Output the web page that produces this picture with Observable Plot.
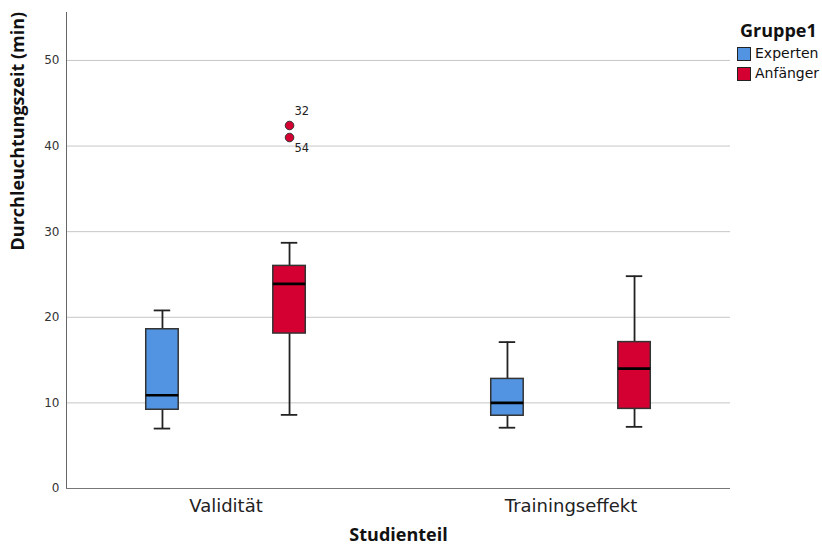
<!DOCTYPE html>
<html>
<head>
<meta charset="utf-8">
<script src="https://cdn.jsdelivr.net/npm/d3@7"></script>
<script src="https://cdn.jsdelivr.net/npm/@observablehq/plot@0.6"></script>
<style>
  body { margin: 0; background: #fff; }
  #wrap { position: relative; width: 822px; height: 552px; overflow: hidden; }
  #wrap svg { position: absolute; left: 0; top: 0; }
  #legend { position: absolute; left: 737px; top: 0; width: 90px; height: 100px; }
  #legend .title { position: absolute; left: 3px; top: 19px; font: bold 18px "Open Sans", sans-serif; color: #111; line-height: 22px; white-space: nowrap; }
  #legend .row { position: absolute; left: 0; height: 16px; line-height: 16px; white-space: nowrap; font: 14px "DejaVu Sans", sans-serif; color: #111; }
  #legend .sw { position: absolute; left: 0; top: 1px; width: 12px; height: 12px; border: 1px solid #222; }
  #legend .lab { position: absolute; left: 18px; top: -1px; }
</style>
</head>
<body>
<div id="wrap"><div id="legend"></div></div>
<script>
// ---- data ----
const studienteile = ["Validität", "Trainingseffekt"];
const gruppen = ["Experten", "Anfänger"];
const farben = ["#5294E2", "#D50032"];

const boxTeil     = ["Validität", "Validität", "Trainingseffekt", "Trainingseffekt"];
const boxGruppe   = ["Experten", "Anfänger", "Experten", "Anfänger"];
const whiskerLow  = [7.0, 8.6, 7.1, 7.2];
const q1          = [9.2, 18.1, 8.5, 9.3];
const median      = [10.9, 23.9, 10.0, 14.0];
const q3          = [18.6, 26.0, 12.8, 17.1];
const whiskerHigh = [20.8, 28.7, 17.1, 24.8];

const outlierTeil   = ["Validität", "Validität"];
const outlierGruppe = ["Anfänger", "Anfänger"];
const outlierWert   = [42.4, 41.0];
const outlierFall   = ["32", "54"];

const yTicks = [0, 10, 20, 30, 40, 50];
const yMax = 55.6;

// ---- build tables ----
const boxes = boxTeil.map((t, i) => ({
  teil: t, gruppe: boxGruppe[i], lo: whiskerLow[i], q1: q1[i],
  median: median[i], q3: q3[i], hi: whiskerHigh[i]
}));
const outliers = outlierTeil.map((t, i) => ({
  teil: t, gruppe: outlierGruppe[i], wert: outlierWert[i], fall: outlierFall[i]
}));

// ---- layout ----
const W = 822, H = 552;
const mL = 66, mR = 92, mT = 12, mB = 64;
const xOpts = { domain: studienteile, paddingInner: 0.5, paddingOuter: 0.212 };
const studyScale = Plot.scale({ x: { type: "band", ...xOpts, range: [mL, W - mR] } });
const bw = studyScale.bandwidth;
const groupScale = Plot.scale({ x: { type: "band", domain: gruppen, range: [-bw / 2, bw / 2], paddingInner: 0.748, paddingOuter: 0.053 } });
const gbw = groupScale.bandwidth;

const font = "DejaVu Sans";
const boldFont = "Open Sans";

const marks = [
  Plot.ruleY(yTicks.filter(v => v > 0), { stroke: "#c6c6c6", strokeWidth: 1 }),
  Plot.axisY({ ticks: yTicks, tickSize: 0, tickPadding: 7, fontSize: 12, fill: "#333", label: null }),
  Plot.axisX({ tickSize: 0, tickPadding: 11, fontSize: 18, fill: "#222", label: null }),
  Plot.frame({ anchor: "left", stroke: "#666" }),
  Plot.ruleY([0], { stroke: "#777", strokeWidth: 1.2 })
];

gruppen.forEach((g, gi) => {
  const data = boxes.filter(d => d.gruppe === g);
  const off = groupScale.apply(g) + gbw / 2;
  const inset = (bw - gbw) / 2;
  const capInset = inset + gbw / 4;
  marks.push(
    Plot.ruleX(data, { x: "teil", y1: "lo", y2: "q1", dx: off, stroke: "#222", strokeWidth: 1.8 }),
    Plot.ruleX(data, { x: "teil", y1: "q3", y2: "hi", dx: off, stroke: "#222", strokeWidth: 1.8 }),
    Plot.tickY(data, { x: "teil", y: "lo", dx: off, insetLeft: capInset, insetRight: capInset, stroke: "#222", strokeWidth: 1.8 }),
    Plot.tickY(data, { x: "teil", y: "hi", dx: off, insetLeft: capInset, insetRight: capInset, stroke: "#222", strokeWidth: 1.8 }),
    Plot.barY(data, { x: "teil", y1: "q1", y2: "q3", dx: off, insetLeft: inset, insetRight: inset, fill: farben[gi], stroke: "#333", strokeWidth: 1.5 }),
    Plot.tickY(data, { x: "teil", y: "median", dx: off, insetLeft: inset, insetRight: inset, stroke: "#000", strokeWidth: 2.6 })
  );
  const od = outliers.filter(d => d.gruppe === g);
  if (od.length) {
    const top = d3.max(od, d => d.wert);
    marks.push(
      Plot.dot(od, { x: "teil", y: "wert", dx: off, r: 4.3, fill: farben[gi], stroke: "#333", strokeWidth: 1 }),
      Plot.text(od.filter(d => d.wert === top), { x: "teil", y: "wert", text: "fall", dx: off + 5, dy: -14, textAnchor: "start", fontSize: 11.5, fill: "#222" }),
      Plot.text(od.filter(d => d.wert !== top), { x: "teil", y: "wert", text: "fall", dx: off + 5, dy: 11, textAnchor: "start", fontSize: 11.5, fill: "#222" })
    );
  }
});

marks.push(
  Plot.text(["Durchleuchtungszeit (min)"], { frameAnchor: "left", text: d => d, rotate: -90, dx: -48, fontSize: 18, fontWeight: "bold", fontFamily: boldFont, fill: "#111" }),
  Plot.text(["Studienteil"], { frameAnchor: "bottom", text: d => d, dy: 52, fontSize: 18, fontWeight: "bold", fontFamily: boldFont, fill: "#111" })
);

const chart = Plot.plot({
  width: W, height: H,
  marginLeft: mL, marginRight: mR, marginTop: mT, marginBottom: mB,
  style: { fontFamily: font, background: "#fff" },
  x: { ...xOpts, axis: null },
  y: { domain: [0, yMax], axis: null },
  marks
});

const wrap = document.getElementById("wrap");
wrap.insertBefore(chart, wrap.firstChild);

// ---- legend ----
const legend = document.getElementById("legend");
const t = document.createElement("div");
t.className = "title";
t.textContent = "Gruppe1";
legend.appendChild(t);
gruppen.forEach((g, i) => {
  const row = document.createElement("div");
  row.className = "row";
  row.style.top = (46 + i * 20) + "px";
  const sw = document.createElement("span");
  sw.className = "sw";
  sw.style.background = farben[i];
  const lab = document.createElement("span");
  lab.className = "lab";
  lab.textContent = g;
  row.appendChild(sw);
  row.appendChild(lab);
  legend.appendChild(row);
});
</script>
</body>
</html>
